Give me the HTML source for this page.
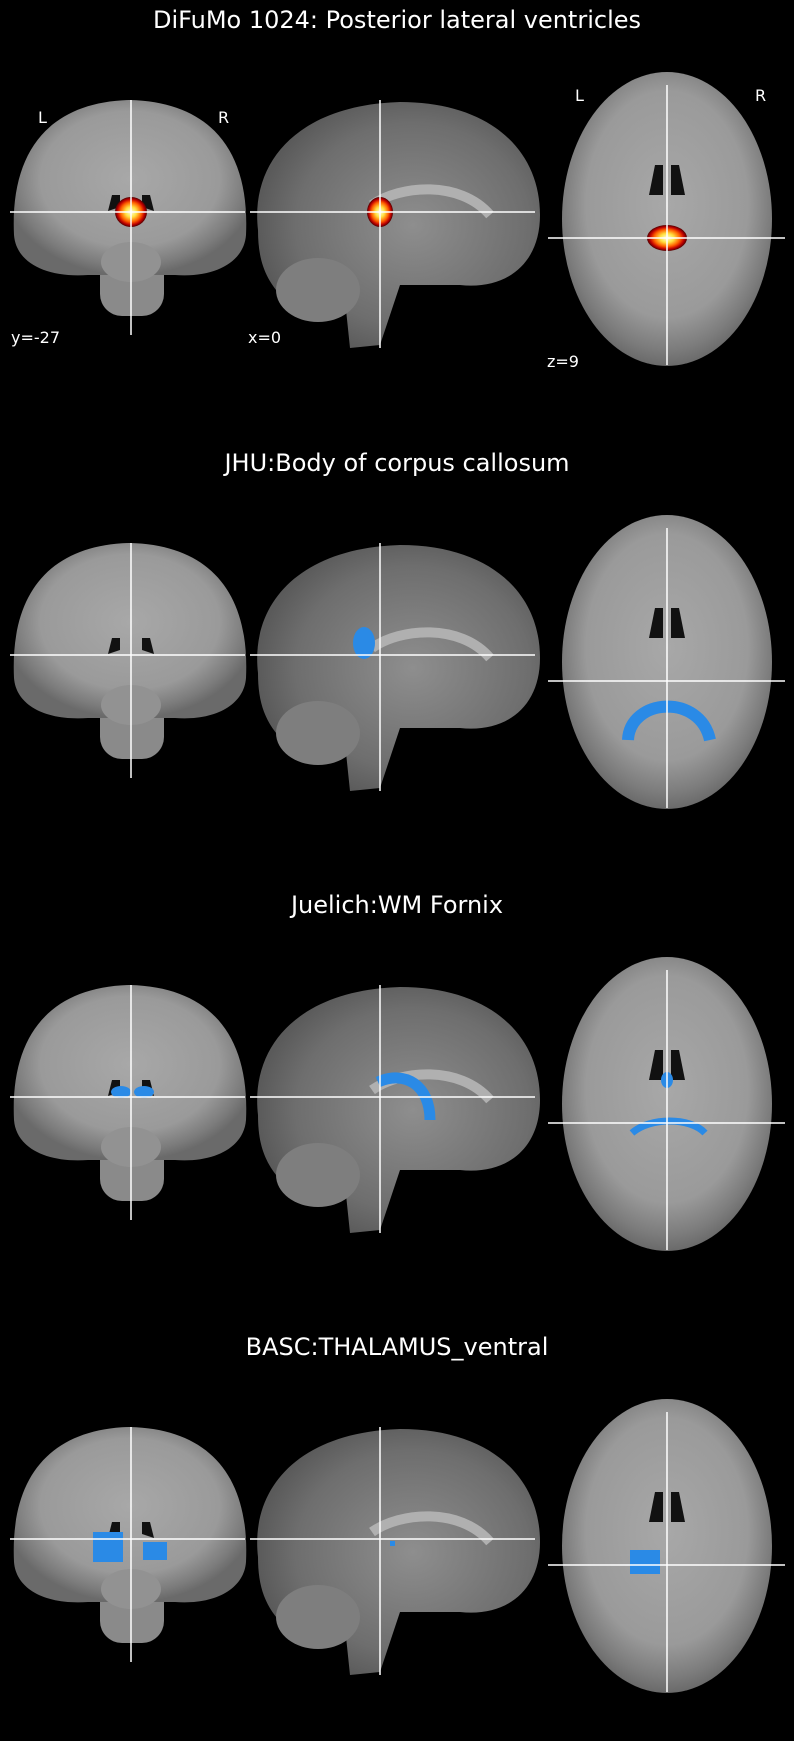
<!DOCTYPE html>
<html><head><meta charset="utf-8"><style>
html,body{margin:0;padding:0;background:#000;}
svg{display:block;}
text{font-family:"DejaVu Sans","Liberation Sans",sans-serif;fill:#fff;}
</style></head><body>
<svg id="fig" width="794" height="1741" viewBox="0 0 794 1741" xmlns="http://www.w3.org/2000/svg">
<defs>
<radialGradient id="brainG" cx="50%" cy="45%" r="55%">
<stop offset="0" stop-color="#a8a8a8"/><stop offset="0.7" stop-color="#9a9a9a"/><stop offset="0.9" stop-color="#7c7c7c"/><stop offset="1" stop-color="#6a6a6a"/></radialGradient>
<radialGradient id="sagG" cx="55%" cy="50%" r="55%">
<stop offset="0" stop-color="#8e8e8e"/><stop offset="0.75" stop-color="#6e6e6e"/><stop offset="1" stop-color="#5a5a5a"/></radialGradient>
<radialGradient id="heat" cx="50%" cy="50%" r="50%">
<stop offset="0" stop-color="#ffffe0"/><stop offset="0.35" stop-color="#ffe040"/><stop offset="0.65" stop-color="#ff6000"/><stop offset="0.85" stop-color="#c00000"/><stop offset="1" stop-color="#500000"/></radialGradient>
</defs>
</svg>
<script>
const titles=["DiFuMo 1024: Posterior lateral ventricles","JHU:Body of corpus callosum","Juelich:WM Fornix","BASC:THALAMUS_ventral"];
const panelOffsets=[0,443,885,1327];
const svg=document.getElementById('fig');
const NS="http://www.w3.org/2000/svg";
function mk(tag,attrs,parent){const e=document.createElementNS(NS,tag);for(const k in attrs)e.setAttribute(k,attrs[k]);(parent||svg).appendChild(e);return e;}
panelOffsets.forEach((off,i)=>{
  const g=mk('g',{transform:'translate(0,'+off+')'});
  
  
  const t=mk('text',{x:397,y:28,'font-size':24,'text-anchor':'middle'},g);t.textContent=titles[i];
  
  
  // coronal
  const c=mk('g',{},g);
  
  
  mk('rect',{x:100,y:250,width:64,height:66,rx:22,fill:'#8a8a8a'},c);
  mk('path',{d:'M14,235 C10,150 50,102 130,100 C210,102 250,150 246,235 C244,262 215,278 175,275 L88,275 C45,278 16,262 14,235 Z',fill:'url(#brainG)'},c);
  mk('ellipse',{cx:131,cy:262,rx:30,ry:20,fill:'#929292'},c);
  mk('path',{d:'M112,195 l8,0 l0,12 l-12,4 Z M150,195 l-8,0 l0,12 l12,4 Z',fill:'#111'},c);
  // sagittal
  const s=mk('g',{},g);
  
  
  mk('path',{d:'M258,230 C250,160 300,105 400,102 C490,102 540,150 540,215 C540,265 505,290 460,285 L400,285 L380,345 L350,348 L345,300 C330,325 300,330 285,300 C265,280 258,260 258,230 Z',fill:'url(#sagG)'},s);
  mk('ellipse',{cx:318,cy:290,rx:42,ry:32,fill:'#7e7e7e'},s);
  mk('path',{d:'M372,205 C400,185 460,180 490,215',stroke:'#b0b0b0','stroke-width':10,fill:'none'},s);
  // axial
  const a=mk('g',{},g);
  
  
  mk('ellipse',{cx:667,cy:219,rx:105,ry:147,fill:'url(#brainG)'},a);
  mk('path',{d:'M655,165 l8,0 l0,30 l-14,0 Z M679,165 l-8,0 l0,30 l14,0 Z',fill:'#111'},a);
  // overlays
  if(i===0){
    mk('ellipse',{cx:131,cy:212,rx:16,ry:15,fill:'url(#heat)'},g);
    mk('ellipse',{cx:380,cy:212,rx:13,ry:15,fill:'url(#heat)'},g);
    mk('ellipse',{cx:667,cy:238,rx:20,ry:13,fill:'url(#heat)'},g);
  } else if(i===1){
    mk('ellipse',{cx:364,cy:200,rx:11,ry:16,fill:'#2a8ae6'},g);
    mk('path',{d:'M628,297 C630,255 700,250 710,297',stroke:'#2a8ae6','stroke-width':12,fill:'none'},g);
  } else if(i===2){
    mk('ellipse',{cx:121,cy:207,rx:10,ry:6,fill:'#2a8ae6'},g);
    mk('ellipse',{cx:144,cy:207,rx:10,ry:6,fill:'#2a8ae6'},g);
    mk('path',{d:'M378,197 C405,185 430,200 430,235',stroke:'#2a8ae6','stroke-width':11,fill:'none'},g);
    mk('ellipse',{cx:667,cy:195,rx:6,ry:8,fill:'#2a8ae6'},g);
    mk('path',{d:'M632,248 C650,232 690,232 705,248',stroke:'#2a8ae6','stroke-width':7,fill:'none'},g);
  } else {
    mk('rect',{x:93,y:205,width:30,height:30,fill:'#2a8ae6'},g);
    mk('rect',{x:143,y:215,width:24,height:18,fill:'#2a8ae6'},g);
    mk('rect',{x:390,y:214,width:5,height:5,fill:'#2a8ae6'},g);
    mk('rect',{x:630,y:223,width:30,height:24,fill:'#2a8ae6'},g);
  }
  // crosshairs
  [[131,100,131,335],[10,212,245,212],[380,100,380,348],[250,212,535,212],[667,85,667,365],[548,238,785,238]].forEach(l=>{
    const ln=mk('line',{x1:l[0],y1:l[1]+(i?-0:0),x2:l[2],y2:l[3],stroke:'#fff','stroke-width':1.5},g);
    
    
  });
  if(i===0){
    [["L",38,123],["R",218,123],["y=-27",11,343],["x=0",248,343],["z=9",547,367],["L",575,101],["R",755,101]].forEach(d=>{
      const tt=mk('text',{x:d[1],y:d[2],'font-size':16},g);tt.textContent=d[0];
      
      
    });
  }
});
</script>
</body></html>
